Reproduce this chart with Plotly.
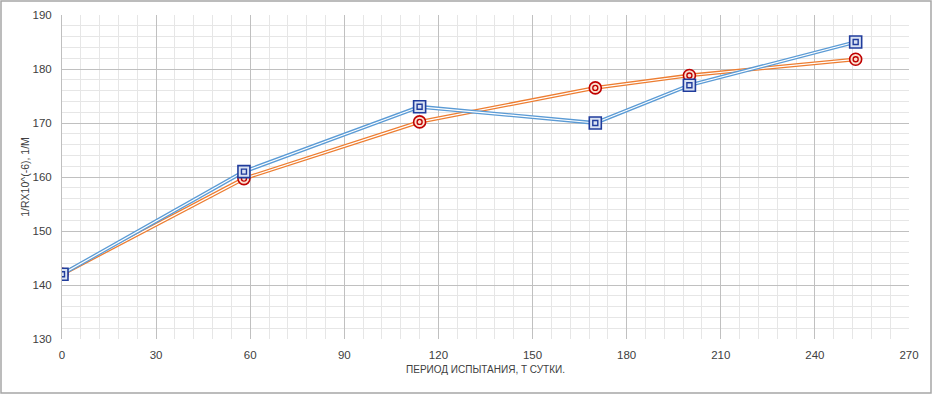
import plotly.graph_objects as go

days = [0, 58, 114, 170, 200, 253]
series_blue = [142, 161, 173, 170, 177, 185]
series_orange = [142, 159.7, 170.2, 176.5, 178.8, 181.8]
x_ticks = [0, 30, 60, 90, 120, 150, 180, 210, 240, 270]
y_ticks = [130, 140, 150, 160, 170, 180, 190]

fig = go.Figure()

def add_series(y, line_color):
    fig.add_trace(go.Scatter(x=days, y=y, mode="lines",
                             line=dict(color=line_color, width=3.8), hoverinfo="skip", showlegend=False))
    fig.add_trace(go.Scatter(x=days, y=y, mode="lines",
                             line=dict(color="white", width=1.2), hoverinfo="skip", showlegend=False))

def add_markers(y, marker_symbol, outer_fill, outline):
    fig.add_trace(go.Scatter(x=days, y=y, mode="markers",
                             marker=dict(symbol=marker_symbol, size=12, color=outer_fill,
                                         line=dict(color=outline, width=1.6)), showlegend=False))
    fig.add_trace(go.Scatter(x=days, y=y, mode="markers",
                             marker=dict(symbol=marker_symbol + "-open", size=5, color=outline,
                                         line=dict(color=outline, width=1.4)), showlegend=False))

add_series(series_orange, "#ED7D31")
add_series(series_blue, "#5B9BD5")
add_markers(series_orange, "circle", "#FBE0CF", "#C00000")
add_markers(series_blue, "square", "#DAE3F3", "#203C9C")

fig.update_layout(
    width=933, height=395,
    margin=dict(l=62, r=24, t=15, b=56, autoexpand=False),
    paper_bgcolor="white", plot_bgcolor="white",
    font=dict(family="Liberation Sans, Arial, sans-serif", size=11.5, color="#404040"),
    showlegend=False,
    xaxis=dict(range=[0, 270], tickvals=x_ticks, ticktext=[str(v) for v in x_ticks],
               showgrid=True, gridcolor="#c0c0c0", gridwidth=1,
               minor=dict(dtick=6, showgrid=True, gridcolor="#e6e6e6", gridwidth=1),
               zeroline=False, showline=False, ticks="", ticklen=0, ticklabelstandoff=7,
               automargin=False,
               title=dict(text="ПЕРИОД ИСПЫТАНИЯ, Т СУТКИ.", font=dict(size=10, color="#404040"), standoff=6)),
    yaxis=dict(range=[130, 190], tickvals=y_ticks, ticktext=[str(v) for v in y_ticks],
               showgrid=True, gridcolor="#c0c0c0", gridwidth=1,
               minor=dict(dtick=2, showgrid=True, gridcolor="#e6e6e6", gridwidth=1),
               zeroline=False, showline=True, linecolor="#bfbfbf", linewidth=1, ticks="",
               ticklabelstandoff=7, automargin=False,
               title=dict(text="1/RX10^(-6), 1/M", font=dict(size=10.5, color="#404040"), standoff=0)),
)

fig.add_shape(type="rect", xref="paper", yref="paper",
              x0=(1 - 62) / 847, x1=(931 - 62) / 847,
              y0=(339 - 393) / 324, y1=(339 - 1) / 324,
              line=dict(color="#a6a6a6", width=1.5), fillcolor="rgba(0,0,0,0)", layer="below")

fig.write_html("out.html", config={"displayModeBar": False},
               post_script="document.body.style.margin='0';document.body.style.padding='0';")
